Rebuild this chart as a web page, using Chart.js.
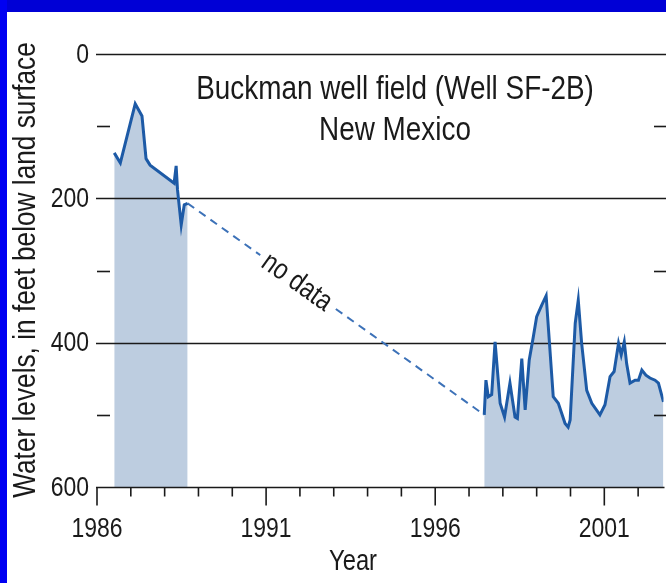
<!DOCTYPE html>
<html>
<head>
<meta charset="utf-8">
<script src="https://cdn.jsdelivr.net/npm/chart.js@4.4.1/dist/chart.umd.min.js"></script>
<style>
  html, body { margin: 0; padding: 0; background: #ffffff; }
  canvas { display: block; }
</style>
</head>
<body>
<canvas id="chart" width="666" height="583"></canvas>
<script>
// Buckman well field (Well SF-2B), New Mexico: depth to water, feet below land surface

// 1986-1988 record
const years1 = [1986.51, 1986.69, 1987.13, 1987.33, 1987.45, 1987.57, 1988.28, 1988.34, 1988.38, 1988.49, 1988.58, 1988.68];
const levels1 = [137, 151, 69, 86, 145, 154, 179, 155, 188, 237, 209, 207];

// 1997-2002 record
const years2 = [1997.45, 1997.50, 1997.57, 1997.67, 1997.77, 1997.92, 1998.05, 1998.21, 1998.36, 1998.43,
                1998.56, 1998.66, 1998.78, 1998.90, 1999.00, 1999.15, 1999.28, 1999.49, 1999.64, 1999.84,
                1999.93, 1999.99, 2000.14, 2000.23, 2000.33, 2000.48, 2000.63, 2000.87, 2001.02, 2001.17,
                2001.29, 2001.42, 2001.50, 2001.59, 2001.66, 2001.76, 2001.91, 2002.01, 2002.11, 2002.23,
                2002.35, 2002.50, 2002.60, 2002.75];
const levels2 = [500, 452, 475, 472, 399, 484, 503, 456, 503, 505,
                 422, 493, 424, 392, 364, 348, 335, 475, 484, 512,
                 517, 507, 373, 341, 401, 466, 484, 500, 486, 447,
                 440, 401, 417, 399, 429, 456, 452, 452, 438, 445,
                 449, 452, 456, 482];

// gap between the two records
const gapYears = [1988.68, 1997.45];
const gapLevels = [207, 500];

// axes
const yLabelTicks = [0, 200, 400, 600];
const yGridTicks = [0, 200, 400];
const yMinorTicks = [100, 300, 500];
const xLabelTicks = [1986, 1991, 1996, 2001];
const xMinorTicks = [1987, 1988, 1989, 1990, 1992, 1993, 1994, 1995, 1997, 1998, 1999, 2000, 2002];

const titleLines = ['Buckman well field (Well SF-2B)', 'New Mexico'];
const xTitle = 'Year';
const yTitle = 'Water levels, in feet below land surface';
const gapLabel = 'no data';

const FONT = "'Liberation Sans', Arial, sans-serif";
const NARROW = 0.82;   // horizontal squeeze for a condensed face
const LINE_BLUE = '#1d5aa6';
const FILL_BLUE = '#bdcde0';
const INK = '#1a1a1a';

const pts = (xs, ys) => xs.map((x, i) => ({ x: x, y: ys[i] }));

// condensed text: squeeze horizontally around the anchor point
function narrowText(c, text, x, y, size, align, baseline) {
  c.save();
  c.translate(x, y);
  c.scale(NARROW, 1);
  c.font = size + 'px ' + FONT;
  c.textAlign = align || 'center';
  c.textBaseline = baseline || 'alphabetic';
  c.fillText(text, 0, 0);
  c.restore();
}

const frame = {
  id: 'frame',
  beforeDraw(chart) {
    const c = chart.ctx;
    c.save();
    c.fillStyle = '#ffffff';
    c.fillRect(0, 0, chart.width, chart.height);
    c.fillStyle = '#0000d6';
    c.fillRect(0, 0, chart.width, 12);
    c.fillStyle = '#0000f2';
    c.fillRect(0, 0, 7, chart.height);
    c.restore();
  },
  beforeDatasetsDraw(chart) {
    const c = chart.ctx;
    const ys = chart.scales.y;
    const a = chart.chartArea;
    c.save();
    c.strokeStyle = INK;
    c.lineWidth = 1.6;
    // horizontal rules
    yGridTicks.forEach(v => {
      const y = Math.round(ys.getPixelForValue(v)) + 0.5;
      c.beginPath(); c.moveTo(a.left - 1, y); c.lineTo(chart.width, y); c.stroke();
    });
    // short inner ticks at the half steps
    yMinorTicks.forEach(v => {
      const y = Math.round(ys.getPixelForValue(v)) + 0.5;
      c.beginPath(); c.moveTo(a.left, y); c.lineTo(a.left + 13, y); c.stroke();
      c.beginPath(); c.moveTo(chart.width - 12, y); c.lineTo(chart.width, y); c.stroke();
    });
    c.restore();
  },
  afterDatasetsDraw(chart) {
    const c = chart.ctx;
    const xs = chart.scales.x, ys = chart.scales.y;
    const a = chart.chartArea;
    c.save();
    c.strokeStyle = INK;
    c.fillStyle = INK;
    c.lineWidth = 1.6;
    const base = Math.round(ys.getPixelForValue(600)) + 0.5;
    // x axis line and ticks
    c.beginPath(); c.moveTo(a.left - 1, base); c.lineTo(a.right + 1, base); c.stroke();
    xLabelTicks.forEach(v => {
      const x = xs.getPixelForValue(v);
      c.beginPath(); c.moveTo(x, base); c.lineTo(x, base + 18); c.stroke();
    });
    xMinorTicks.forEach(v => {
      const x = xs.getPixelForValue(v);
      c.beginPath(); c.moveTo(x, base); c.lineTo(x, base + 9); c.stroke();
    });

    // tick labels
    yLabelTicks.forEach(v => narrowText(c, String(v), 89, ys.getPixelForValue(v) + 1, 28, 'right', 'middle'));
    xLabelTicks.forEach(v => narrowText(c, String(v), xs.getPixelForValue(v), 537, 28, 'center'));

    // axis titles
    narrowText(c, xTitle, 353, 570, 29, 'center');
    c.save();
    c.translate(26, 270);
    c.rotate(-Math.PI / 2);
    narrowText(c, yTitle, 0, 0, 32, 'center', 'middle');
    c.restore();

    // chart title
    narrowText(c, titleLines[0], 395, 99, 34, 'center');
    narrowText(c, titleLines[1], 395, 140, 34, 'center');

    // label on the gap line
    const x0 = xs.getPixelForValue(gapYears[0]), y0 = ys.getPixelForValue(gapLevels[0]);
    const x1 = xs.getPixelForValue(gapYears[1]), y1 = ys.getPixelForValue(gapLevels[1]);
    const ang = Math.atan2(y1 - y0, x1 - x0);
    const t = 0.37;
    const mx = x0 + (x1 - x0) * t, my = y0 + (y1 - y0) * t;
    c.save();
    c.translate(mx, my);
    c.rotate(ang);
    c.font = '29px ' + FONT;
    const w = c.measureText(gapLabel).width * NARROW;
    c.fillStyle = '#ffffff';
    c.fillRect(-w / 2 - 6, -15, w + 12, 30);
    c.fillStyle = INK;
    narrowText(c, gapLabel, 0, 1, 29, 'center', 'middle');
    c.restore();
    c.restore();
  }
};

new Chart(document.getElementById('chart'), {
  type: 'line',
  data: {
    datasets: [
      {
        data: pts(years1, levels1),
        borderColor: LINE_BLUE,
        backgroundColor: FILL_BLUE,
        borderWidth: 3,
        fill: { value: 600 },
        pointRadius: 0,
        tension: 0
      },
      {
        data: pts(years2, levels2),
        borderColor: LINE_BLUE,
        backgroundColor: FILL_BLUE,
        borderWidth: 3,
        fill: { value: 600 },
        pointRadius: 0,
        tension: 0
      },
      {
        data: pts(gapYears, gapLevels),
        borderColor: '#3d72b8',
        borderWidth: 2,
        borderDash: [8, 6],
        fill: false,
        pointRadius: 0,
        tension: 0
      }
    ]
  },
  options: {
    responsive: false,
    animation: false,
    devicePixelRatio: 1,
    layout: { padding: { left: 97, right: 2.5, top: 54, bottom: 96 } },
    scales: {
      x: { type: 'linear', min: 1986, max: 2002.75, display: false },
      y: { type: 'linear', min: 0, max: 600, reverse: true, display: false }
    },
    plugins: {
      legend: { display: false },
      tooltip: { enabled: false },
      filler: { drawTime: 'beforeDatasetsDraw' }
    }
  },
  plugins: [frame]
});
</script>
</body>
</html>
